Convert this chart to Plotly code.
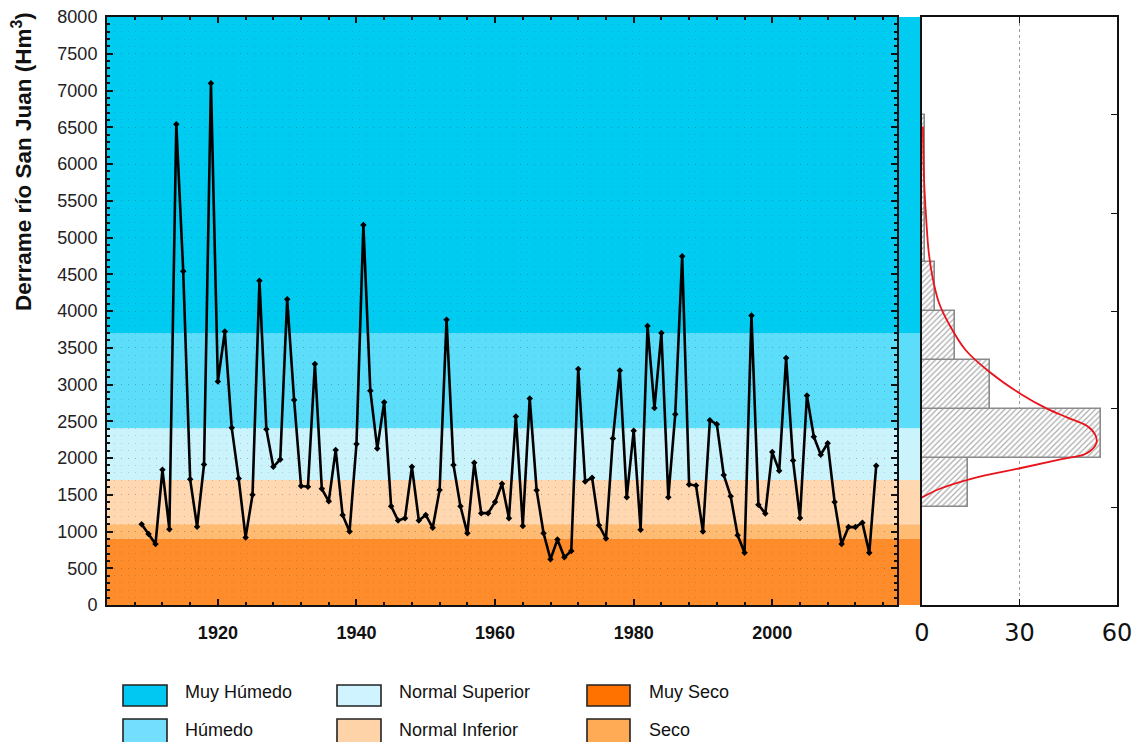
import plotly.graph_objects as go

# ---------------- data ----------------
years = list(range(1909, 2016))
derrame = [1100, 965, 830, 1840, 1030, 6540, 4540, 1710, 1065, 1910,
           7100, 3040, 3720, 2410, 1720, 920, 1500, 4410, 2390, 1880,
           1980, 4160, 2790, 1620, 1610, 3280, 1580, 1410, 2110, 1225,
           1000, 2190, 5170, 2915, 2130, 2760, 1345, 1150, 1180, 1880,
           1150, 1225, 1050, 1565, 3880, 1905, 1345, 975, 1935, 1250,
           1250, 1400, 1650, 1180, 2565, 1075, 2810, 1560, 977, 622,
           890, 650, 735, 3210, 1680, 1730, 1085, 905, 2265, 3190,
           1465, 2370, 1025, 3795, 2680, 3700, 1465, 2595, 4745, 1640,
           1625, 1000, 2515, 2460, 1770, 1480, 950, 710, 3940, 1365,
           1245, 2080, 1825, 3360, 1965, 1185, 2850, 2290, 2045, 2200,
           1400, 830, 1060, 1060, 1120, 710, 1895]

band_names = ["Muy Húmedo", "Húmedo", "Normal Superior", "Normal Inferior", "Seco", "Muy Seco"]
band_lo = [3700, 2400, 1700, 1100, 900, 0]
band_hi = [8000, 3700, 2400, 1700, 1100, 900]

hist_lo = [1333, 2000, 2667, 3333, 4000, 4667, 5333, 6000]
hist_width = 667
hist_counts = [14, 55, 21, 10, 4, 1, 1, 1]

curve_vals = [1463, 1578, 1721, 1864, 1980, 2065, 2208, 2324, 2438, 2553, 2668,
              2868, 3184, 3469, 3815, 4102, 4446, 4789, 5249, 5823, 6510]
curve_freq = [0, 5.3, 15.4, 30.5, 42.6, 50.7, 53.7, 53.2, 50.7, 44.6, 38.6,
              30.5, 20.4, 13.4, 8.4, 5.3, 3.3, 2.1, 1.3, 0.6, 0.3]

x_ticks = [1920, 1940, 1960, 1980, 2000]
y_ticks = list(range(0, 8001, 500))
hist_x_ticks = [0, 30, 60]
hist_y_ticks = [1333, 2667, 4000, 5333, 6667]

# ---------------- styles ----------------
band_colors = ["#00CCF2", "#5CDDFA", "#CBF3FC", "#FFD8B2", "#FFBB72", "#FF8C2A"]
legend_colors = ["#00C8F2", "#74DEFF", "#CFF3FF", "#FFD3A8", "#FFAA55", "#FF7200"]
FONT = "Liberation Sans, Arial, sans-serif"

W, H = 1137, 742
L, R, T, B = 107, 20, 17, 137
plot_w = W - L - R
plot_h = H - T - B
main_right_px = 897
hist_left_px = 922
main_dom = [0, (main_right_px - L) / plot_w]
hist_dom = [(hist_left_px - L) / plot_w, 1]


def px_x(px):
    return (px - L) / plot_w


def px_y(py):
    return (H - B - py) / plot_h


fig = go.Figure()

fig.add_trace(go.Scatter(
    x=years, y=derrame, mode="lines+markers",
    line=dict(color="black", width=2.6),
    marker=dict(symbol="diamond", size=5, color="black"),
    xaxis="x", yaxis="y", showlegend=False, hoverinfo="skip"))

hist_centers = [lo + hist_width / 2 for lo in hist_lo]
fig.add_trace(go.Bar(
    y=hist_centers, x=hist_counts, orientation="h", width=hist_width,
    marker=dict(color="white",
                pattern=dict(shape="/", fgcolor="#555555", bgcolor="white", size=4, solidity=0.3),
                line=dict(color="#8a8a8a", width=1.6)),
    xaxis="x2", yaxis="y2", showlegend=False, hoverinfo="skip"))

fig.add_trace(go.Scatter(
    x=curve_freq, y=curve_vals, mode="lines", line=dict(color="#E8141C", width=1.8, shape="spline"),
    xaxis="x2", yaxis="y2", showlegend=False, hoverinfo="skip"))

shapes = []
# background bands (extend to the histogram axis)
for lo, hi, col in zip(band_lo, band_hi, band_colors):
    shapes.append(dict(type="rect", xref="paper", yref="y", x0=0, x1=hist_dom[0],
                       y0=lo, y1=hi, fillcolor=col, line=dict(width=0), layer="below"))

# custom legend
legend_pos = {  # name -> (column, row)
    "Muy Húmedo": (0, 0), "Húmedo": (0, 1),
    "Normal Superior": (1, 0), "Normal Inferior": (1, 1),
    "Muy Seco": (2, 0), "Seco": (2, 1)}
col_sw = [(123, 167), (337, 381), (587, 630)]
col_tx = [183, 397, 647]
row_sw = [(685, 706), (719, 744)]
row_tx = [692, 730]
annotations = []
for name, col in zip(band_names, legend_colors):
    c, r = legend_pos[name]
    shapes.append(dict(type="rect", xref="paper", yref="paper",
                       x0=px_x(col_sw[c][0]), x1=px_x(col_sw[c][1]),
                       y0=px_y(row_sw[r][0]), y1=px_y(row_sw[r][1]),
                       fillcolor=col, line=dict(color="#222", width=1.6)))
    annotations.append(dict(xref="paper", yref="paper", x=px_x(col_tx[c]), y=px_y(row_tx[r]),
                            text=name, showarrow=False, xanchor="left", yanchor="middle",
                            font=dict(family=FONT, size=18, color="#111")))

annotations.append(dict(xref="paper", yref="paper", x=px_x(22), y=px_y(162),
                        text="<b>Derrame río San Juan (Hm<sup>3</sup>)</b>", textangle=-90,
                        showarrow=False, xanchor="center", yanchor="middle",
                        font=dict(family=FONT, size=22.5, color="#111")))

dot_grid = dict(gridcolor="rgba(60,60,60,0.2)", griddash="1px,6px", gridwidth=1)

fig.update_layout(
    width=W, height=H,
    margin=dict(l=L, r=R, t=T, b=B),
    paper_bgcolor="white", plot_bgcolor="rgba(0,0,0,0)",
    font=dict(family=FONT, color="#111"),
    shapes=shapes, annotations=annotations, showlegend=False,
    bargap=0,
    xaxis=dict(domain=main_dom, range=[1904, 2018], tickvals=x_ticks,
               ticktext=["<b>%d</b>" % t for t in x_ticks],
               tickfont=dict(size=18, color="#111"), ticklabelstandoff=10,
               ticks="inside", ticklen=6, tickwidth=1.5, tickcolor="#111",
               minor=dict(dtick=4, tick0=1920, ticks="inside", ticklen=3, tickcolor="#111", showgrid=False),
               showline=True, linecolor="#111", linewidth=2, mirror="ticks",
               showgrid=False, zeroline=False, automargin=False),
    yaxis=dict(domain=[0, 1], range=[0, 8000], tickvals=y_ticks,
               tickfont=dict(size=18, color="#222"), ticklabelstandoff=4,
               ticks="inside", ticklen=6, tickwidth=1.5, tickcolor="#111",
               minor=dict(dtick=100, ticks="inside", ticklen=3, tickcolor="#111", showgrid=True, **dot_grid),
               showline=True, linecolor="#111", linewidth=2, mirror="ticks",
               showgrid=True, zeroline=False, automargin=False, **dot_grid),
    xaxis2=dict(domain=hist_dom, range=[0, 60], tickvals=hist_x_ticks, anchor="y2",
                tickfont=dict(family="DejaVu Sans, Verdana, sans-serif", size=24, color="#111"),
                ticklabelstandoff=5,
                ticks="inside", ticklen=6, tickcolor="#111",
                showline=True, linecolor="#111", linewidth=2, mirror="ticks",
                showgrid=True, gridcolor="#9a9a9a", griddash="dot", gridwidth=1, zeroline=False,
                automargin=False),
    yaxis2=dict(domain=[0, 1], range=[0, 8000], anchor="x2", side="right",
                tickvals=hist_y_ticks, showticklabels=False,
                ticks="inside", ticklen=6, tickcolor="#111",
                showline=True, linecolor="#111", linewidth=2, mirror=True,
                showgrid=False, zeroline=False, automargin=False),
)

fig.write_html("out.html", config={"displayModeBar": False},
               post_script="document.body.style.margin='0';document.body.style.padding='0';"
                           "document.documentElement.style.overflow='hidden';")
